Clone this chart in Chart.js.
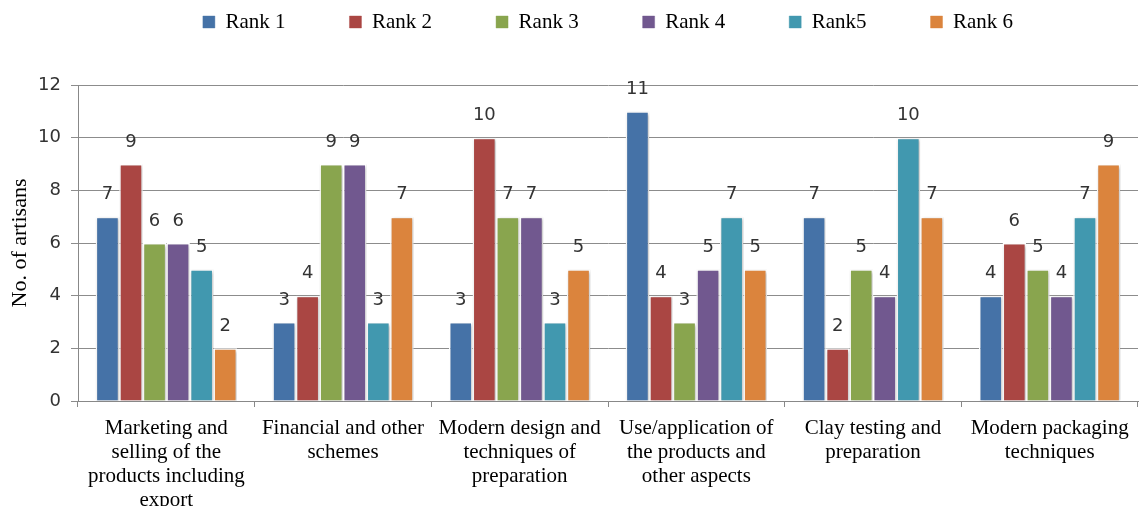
<!DOCTYPE html>
<html>
<head>
<meta charset="utf-8">
<script src="https://cdn.jsdelivr.net/npm/chart.js@4.4.1/dist/chart.umd.min.js"></script>
<style>
  html, body { margin: 0; padding: 0; background: #fff; }
  #wrap { width: 1139px; height: 506px; }
</style>
</head>
<body>
<div id="wrap"><canvas id="grafico"></canvas></div>
<script>
const categorias = [
    ["Marketing and", "selling of the", "products including", "export"],
    ["Financial and other", "schemes"],
    ["Modern design and", "techniques of", "preparation"],
    ["Use/application of", "the products and", "other aspects"],
    ["Clay testing and", "preparation"],
    ["Modern packaging", "techniques"],
];
const rank1 = [7, 3, 3, 11, 7, 4];
const rank2 = [9, 4, 10, 4, 2, 6];
const rank3 = [6, 9, 7, 3, 5, 5];
const rank4 = [6, 9, 7, 5, 4, 4];
const rank5 = [5, 3, 3, 7, 10, 7];
const rank6 = [2, 7, 5, 5, 7, 9];
const nombres = ["Rank 1", "Rank 2", "Rank 3", "Rank 4", "Rank5", "Rank 6"];
const colores = ["#4572A7", "#AA4643", "#89A54E", "#71588F", "#4198AF", "#DB843D"];
const yTicks = [0, 2, 4, 6, 8, 10, 12];

const serif = "'Liberation Serif', 'Times New Roman', serif";
const sans = "'DejaVu Sans', Verdana, sans-serif";

const series = [rank1, rank2, rank3, rank4, rank5, rank6];

// value labels above every bar
const etiquetas = {
    id: "etiquetas",
    afterDatasetsDraw(chart) {
        const ctx = chart.ctx;
        ctx.save();
        ctx.font = "18px " + sans;
        ctx.fillStyle = "#333";
        ctx.textAlign = "center";
        ctx.textBaseline = "middle";
        chart.data.datasets.forEach((ds, i) => {
            chart.getDatasetMeta(i).data.forEach((bar, j) => {
                ctx.fillText(String(ds.data[j]), bar.x, bar.y - 22);
            });
        });
        ctx.restore();
    },
};

// soft shadow behind the bars
const sombra = {
    id: "sombra",
    beforeDatasetsDraw(chart) {
        const ctx = chart.ctx;
        ctx.save();
        ctx.shadowColor = "rgba(0,0,0,0.28)";
        ctx.shadowBlur = 3;
        ctx.shadowOffsetX = 1;
        ctx.shadowOffsetY = 1;
    },
    afterDatasetsDraw(chart) {
        chart.ctx.restore();
    },
};

// legend: reserve 85px above the plot, draw the row near the top,
// centred over the plot area
const leyenda = {
    id: "leyenda",
    beforeInit(chart) {
        const fit = chart.legend.fit;
        chart.legend.fit = function () {
            fit.call(this);
            this.height = 85;
        };
    },
    afterLayout(chart) {
        const l = chart.legend;
        const pad = l.options.labels.padding;
        l.left = chart.chartArea.left;
        l.width = l.right - l.left;
        l.top = 22 - pad - 10.5;
        l.height = l.bottom - l.top;
    },
};

const ctx = document.getElementById("grafico").getContext("2d");
new Chart(ctx, {
    type: "bar",
    data: {
        labels: categorias,
        datasets: series.map((d, i) => ({
            label: nombres[i],
            data: d,
            backgroundColor: colores[i],
            borderColor: "#ffffff",
            borderWidth: 1.5,
            categoryPercentage: 0.8,
            barPercentage: 1.0,
        })),
    },
    options: {
        responsive: true,
        maintainAspectRatio: false,
        animation: false,
        layout: { padding: { left: 0, right: 1, top: 0, bottom: 0 } },
        plugins: {
            tooltip: { enabled: false },
            legend: {
                position: "top",
                labels: {
                    boxWidth: 12,
                    boxHeight: 12,
                    padding: 64,
                    color: "#000",
                    font: { family: serif, size: 21 },
                    generateLabels(chart) {
                        return chart.data.datasets.map((ds, i) => ({
                            text: ds.label,
                            fillStyle: ds.backgroundColor,
                            strokeStyle: ds.backgroundColor + "66",
                            lineWidth: 1,
                            fontColor: "#000",
                            datasetIndex: i,
                        }));
                    },
                },
            },
        },
        scales: {
            x: {
                grid: {
                    offset: true,
                    drawOnChartArea: false,
                    drawTicks: true,
                    tickLength: 6,
                    color: "#888",
                },
                border: { color: "#888", width: 1 },
                ticks: {
                    color: "#000",
                    font: { family: serif, size: 21, lineHeight: "24px" },
                    maxRotation: 0,
                    autoSkip: false,
                    padding: 9,
                },
                afterFit(scale) { scale.height = 105; },
            },
            y: {
                min: 0,
                max: 12,
                afterBuildTicks(scale) {
                    scale.ticks = yTicks.map((v) => ({ value: v }));
                },
                grid: { color: "#8c8c8c", tickLength: 7, lineWidth: 1 },
                border: { color: "#888", width: 1 },
                ticks: {
                    color: "#333",
                    font: { family: sans, size: 18 },
                    padding: 10,
                },
                title: {
                    display: true,
                    text: "No. of artisans",
                    color: "#000",
                    font: { family: serif, size: 22 },
                    padding: { top: 7, bottom: 0 },
                },
                afterFit(scale) { scale.width = 78; },
            },
        },
    },
    plugins: [sombra, etiquetas, leyenda],
});
</script>
</body>
</html>
